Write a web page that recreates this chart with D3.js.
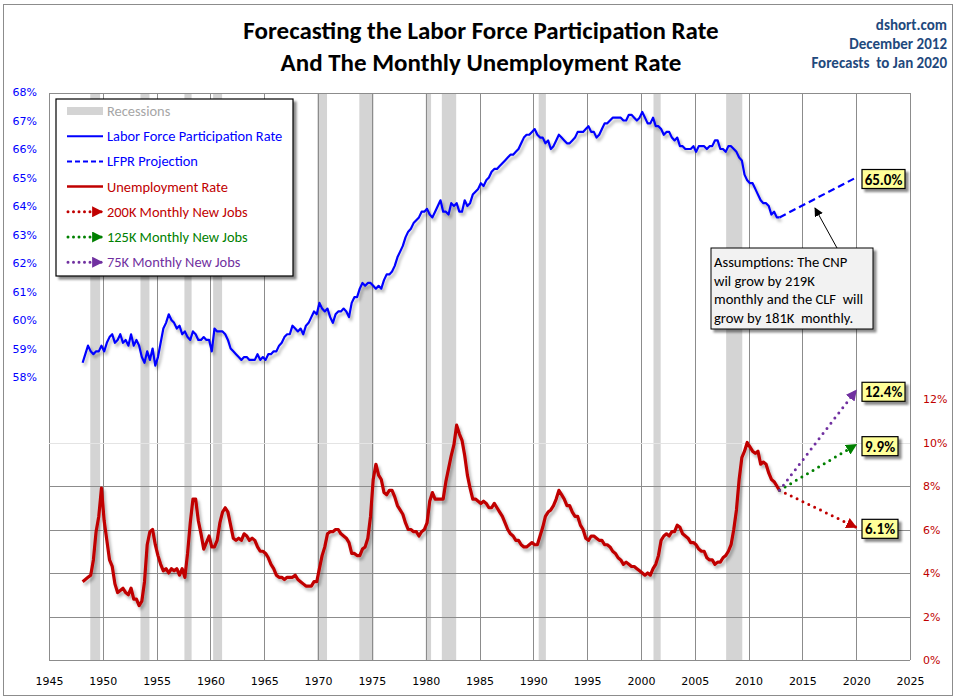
<!DOCTYPE html>
<html lang="en">
<head>
<meta charset="utf-8">
<title>Forecasting the Labor Force Participation Rate</title>
<script src="https://cdn.jsdelivr.net/npm/d3@7"></script>
<style>
  body { margin: 0; background: #fff; }
  svg { display: block; }
  .tick line { shape-rendering: crispEdges; }
</style>
</head>
<body>
<script>

// quarterly values, 1948 Q1 .. 2012 Q4
var firstYear = 1948;

var lfpr = [
  58.5, 58.8, 59.1, 58.9,  58.8, 58.9, 58.9, 59.1,  58.9, 59.2, 59.4, 59.5,  59.2, 59.3, 59.5, 59.2,
  59.3, 59.1, 59.5, 59.1,  59.3, 59.1, 58.7, 58.5,  58.9, 58.6, 59.0, 58.4,  58.7, 59.2, 59.7, 59.9,
  60.2, 60.0, 59.9, 59.7,  59.8, 59.5, 59.6, 59.4,  59.3, 59.6, 59.5, 59.3,  59.3, 59.4, 59.3, 59.3,
  58.9, 59.7, 59.6, 59.6,  59.6, 59.5, 59.3, 59.0,  58.9, 58.8, 58.7, 58.6,  58.7, 58.7, 58.6, 58.6,
  58.6, 58.8, 58.6, 58.7,  58.6, 58.8, 58.8, 58.9,  58.9, 59.1, 59.2, 59.4,  59.5, 59.5, 59.8, 59.7,
  59.6, 59.7, 59.5, 59.8,  59.9, 60.1, 60.3, 60.2,  60.6, 60.4, 60.3, 60.4,  60.1, 59.9, 60.2, 60.3,
  60.3, 60.4, 60.3, 60.1,  60.6, 60.8, 60.8, 61.1,  61.3, 61.2, 61.3, 61.3,  61.2, 61.1, 61.2, 61.1,
  61.4, 61.6, 61.6, 61.7,  61.9, 62.2, 62.4, 62.6,  62.9, 63.1, 63.2, 63.4,  63.5, 63.6, 63.8, 63.8,
  63.9, 63.7, 63.6, 63.8,  64.0, 64.2, 63.8, 63.8,  63.7, 64.1, 64.0, 64.1,  63.8, 63.8, 64.2, 64.0,
  64.1, 64.4, 64.5, 64.6,  64.8, 64.7, 64.9, 65.0,  65.2, 65.3, 65.3, 65.4,  65.5, 65.6, 65.7, 65.8,
  65.8, 65.9, 66.0, 66.2,  66.4, 66.5, 66.5, 66.6,  66.7, 66.5, 66.4, 66.4,  66.2, 66.3, 66.0, 66.1,
  66.3, 66.5, 66.4, 66.3,  66.2, 66.2, 66.3, 66.4,  66.6, 66.6, 66.6, 66.7,  66.8, 66.6, 66.6, 66.4,
  66.5, 66.7, 66.9, 66.9,  67.0, 67.1, 67.1, 67.1,  67.1, 67.0, 67.0, 67.2,  67.2, 67.1, 67.0, 67.1,
  67.3, 67.1, 66.9, 66.9,  67.1, 66.8, 66.8, 66.7,  66.5, 66.6, 66.6, 66.4,  66.3, 66.4, 66.1, 66.1,
  66.0, 66.0, 66.0, 66.1,  65.9, 66.1, 66.1, 66.1,  66.0, 66.1, 66.1, 66.3,  66.3, 66.0, 66.0, 65.9,
  66.1, 66.1, 66.0, 65.9,  65.7, 65.6, 65.1, 64.9,  64.8, 64.8, 64.6, 64.4,  64.2, 64.1, 64.1, 64.0,
  63.7, 63.8, 63.6, 63.6
];

var unrate = [
  3.6, 3.7, 3.8, 3.9,  4.6, 5.9, 6.6, 7.9,  6.4, 5.5, 4.6, 4.3,  3.5, 3.1, 3.2, 3.3,
  3.1, 3.0, 3.3, 2.8,  2.8, 2.5, 2.7, 3.6,  5.3, 5.9, 6.0, 5.3,  4.8, 4.4, 4.1, 4.2,
  4.0, 4.2, 4.1, 4.2,  3.9, 4.2, 3.8, 4.9,  6.3, 7.4, 7.4, 6.4,  5.8, 5.1, 5.4, 5.7,
  5.2, 5.2, 5.5, 6.3,  6.8, 7.0, 6.8, 6.2,  5.6, 5.5, 5.6, 5.5,  5.8, 5.7, 5.5, 5.6,
  5.5, 5.2, 5.0, 5.0,  4.9, 4.7, 4.4, 4.2,  3.9, 3.8, 3.8, 3.7,  3.8, 3.8, 3.8, 3.9,
  3.7, 3.6, 3.5, 3.4,  3.4, 3.4, 3.6, 3.6,  4.2, 4.8, 5.2, 5.8,  5.9, 5.9, 6.0, 6.0,
  5.8, 5.7, 5.6, 5.4,  4.9, 4.9, 4.8, 4.8,  5.1, 5.2, 5.6, 6.6,  8.3, 9.0, 8.5, 8.3,
  7.7, 7.6, 7.8, 7.8,  7.5, 7.1, 6.9, 6.7,  6.3, 6.0, 6.0, 5.9,  5.9, 5.7, 5.9, 6.0,
  6.3, 7.3, 7.7, 7.4,  7.4, 7.4, 7.4, 8.2,  8.8, 9.4, 9.9, 10.8,  10.4, 10.1, 9.4, 8.5,
  7.9, 7.4, 7.4, 7.3,  7.2, 7.3, 7.2, 7.0,  7.0, 7.2, 7.0, 6.8,  6.6, 6.3, 6.0, 5.8,
  5.7, 5.5, 5.5, 5.3,  5.2, 5.2, 5.3, 5.4,  5.3, 5.3, 5.7, 6.1,  6.6, 6.8, 6.9, 7.1,
  7.4, 7.8, 7.6, 7.4,  7.1, 7.1, 6.8, 6.6,  6.6, 6.2, 6.0, 5.6,  5.5, 5.7, 5.7, 5.6,
  5.5, 5.5, 5.3, 5.3,  5.2, 5.0, 4.9, 4.7,  4.6, 4.4, 4.5, 4.4,  4.3, 4.3, 4.2, 4.1,
  4.0, 3.9, 4.0, 3.9,  4.2, 4.4, 4.8, 5.5,  5.7, 5.8, 5.7, 5.9,  5.9, 6.2, 6.1, 5.8,
  5.7, 5.6, 5.4, 5.4,  5.3, 5.1, 5.0, 5.0,  4.7, 4.6, 4.6, 4.4,  4.5, 4.5, 4.7, 4.8,
  5.0, 5.3, 6.0, 6.9,  8.3, 9.3, 9.6, 10.0,  9.8, 9.6, 9.5, 9.6,  9.0, 9.1, 9.0, 8.6,
  8.3, 8.2, 8.0, 7.8
];

// NBER recessions (peak month, trough month)
var recessionStart = ["1948-11", "1953-07", "1957-08", "1960-04", "1969-12", "1973-11",
                      "1980-01", "1981-07", "1990-07", "2001-03", "2007-12"];
var recessionEnd   = ["1949-10", "1954-05", "1958-04", "1961-02", "1970-11", "1975-03",
                      "1980-07", "1982-11", "1991-03", "2001-11", "2009-06"];

// forecasts out to Jan 2020
var forecastEndYear = 2020.0;
var lfprForecastEnd = 65.0;
var scenarioNames = ["200K Monthly New Jobs", "125K Monthly New Jobs", "75K Monthly New Jobs"];
var scenarioEnd = [6.1, 9.9, 12.4];
var scenarioColors = ["#c00000", "#008000", "#7030a0"];

// axis ticks
var yearTicks = d3.range(1945, 2026, 5);
var lfprTicks = d3.range(58, 69, 1);
var unrateTicks = [0, 2, 4, 6, 8, 10, 12];

var W = 961, H = 700;
// plot box (window.top is read-only, so no bare "top")
var pLeft = 49, pRight = 910, pTop = 93, pBottom = 660;

var x = d3.scaleLinear().domain([1945, 2025]).range([pLeft, pRight]);
var yL = d3.scaleLinear().domain([58, 68]).range([377, 92]);
var yU = d3.scaleLinear().domain([0, 12]).range([pBottom, 399]);

function monthToYear(s) {
  var p = s.split("-");
  return +p[0] + (+p[1] - 1) / 12;
}

var lfprPts = lfpr.map(function(v, i) { return [firstYear + i / 4 + 0.125, v]; });
var unPts = unrate.map(function(v, i) { return [firstYear + i / 4 + 0.125, v]; });
var lastT = lfprPts[lfprPts.length - 1][0];

var font = "Carlito, Lato, sans-serif";

var svg = d3.select("body").append("svg")
  .attr("width", W)
  .attr("height", H);

var defs = svg.append("defs");
defs.append("filter").attr("id", "lineShadow")
  .attr("x", "-5%").attr("y", "-10%").attr("width", "110%").attr("height", "125%")
  .append("feDropShadow")
  .attr("dx", 2).attr("dy", 3).attr("stdDeviation", 1.4)
  .attr("flood-color", "#000").attr("flood-opacity", 0.3);
defs.append("filter").attr("id", "boxShadow")
  .attr("x", "-10%").attr("y", "-10%").attr("width", "130%").attr("height", "140%")
  .append("feDropShadow")
  .attr("dx", 3).attr("dy", 3).attr("stdDeviation", 1.2)
  .attr("flood-color", "#000").attr("flood-opacity", 0.45);

function arrowMarker(id, color, size) {
  defs.append("marker").attr("id", id)
    .attr("viewBox", "0 0 10 10")
    .attr("refX", 9).attr("refY", 5)
    .attr("markerUnits", "userSpaceOnUse")
    .attr("markerWidth", size).attr("markerHeight", size)
    .attr("orient", "auto")
    .append("path").attr("d", "M0,0L10,5L0,10Z").attr("fill", color);
}
scenarioColors.forEach(function(c, i) { arrowMarker("arrow" + i, c, 11); });
arrowMarker("arrowBlack", "#000", 9);

// outer frame
svg.append("rect")
  .attr("x", 3.5).attr("y", 4.5).attr("width", 949).attr("height", 691)
  .attr("fill", "#fff").attr("stroke", "#8c8c8c").attr("stroke-width", 1);

// titles
var title = svg.append("g")
  .attr("font-family", font)
  .attr("font-weight", "bold")
  .attr("text-anchor", "middle")
  .attr("fill", "#000");
title.append("text").attr("x", 481).attr("y", 39).attr("font-size", 25)
  .text("Forecasting the Labor Force Participation Rate");
title.append("text").attr("x", 481).attr("y", 71).attr("font-size", 25)
  .text("And The Monthly Unemployment Rate");

var credit = svg.append("g")
  .attr("font-family", font)
  .attr("font-weight", "bold")
  .attr("font-size", 15)
  .attr("text-anchor", "end")
  .attr("fill", "#1f497d");
["dshort.com", "December 2012", "Forecasts  to Jan 2020"].forEach(function(t, i) {
  credit.append("text").attr("x", 947).attr("y", 30 + i * 19)
    .attr("xml:space", "preserve").text(t);
});

// recession bars
svg.append("g").selectAll("rect")
  .data(recessionStart)
  .enter().append("rect")
  .attr("x", function(d) { return x(monthToYear(d)); })
  .attr("width", function(d, i) { return x(monthToYear(recessionEnd[i])) - x(monthToYear(d)); })
  .attr("y", pTop)
  .attr("height", pBottom - pTop)
  .attr("fill", "#d4d4d4");

// vertical grid
svg.append("g")
  .attr("transform", "translate(0," + pBottom + ")")
  .call(d3.axisBottom(x).tickValues(yearTicks).tickSize(-(pBottom - pTop)).tickFormat(""))
  .call(function(g) { g.select(".domain").remove(); })
  .selectAll("line").attr("stroke", "#8c8c8c");

// horizontal grid on the unemployment scale
svg.append("g")
  .attr("transform", "translate(" + pLeft + ",0)")
  .call(d3.axisRight(yU).tickValues([0, 2, 4, 6, 8, 10]).tickSize(pRight - pLeft).tickFormat(""))
  .call(function(g) { g.select(".domain").remove(); })
  .selectAll("line")
  .attr("stroke", function(d) { return d === 10 ? "#e4e4e4" : "#8c8c8c"; });

svg.append("line")
  .attr("x1", pLeft).attr("x2", pRight).attr("y1", pTop + 0.5).attr("y2", pTop + 0.5)
  .attr("stroke", "#8c8c8c");

// axes labels
svg.append("g")
  .attr("transform", "translate(0," + pBottom + ")")
  .call(d3.axisBottom(x).tickValues(yearTicks).tickSize(0).tickPadding(17).tickFormat(d3.format("d")))
  .call(function(g) { g.select(".domain").remove(); })
  .selectAll("text")
  .attr("font-family", "DejaVu Sans, sans-serif").attr("font-size", 11).attr("fill", "#000");

svg.append("g")
  .attr("transform", "translate(37,0)")
  .call(d3.axisLeft(yL).tickValues(lfprTicks).tickSize(0).tickPadding(0).tickFormat(function(d) { return d + "%"; }))
  .call(function(g) { g.select(".domain").remove(); })
  .selectAll("text")
  .attr("font-family", "DejaVu Sans, sans-serif").attr("font-size", 11).attr("fill", "#0000ff");

svg.append("g")
  .attr("transform", "translate(923,0)")
  .call(d3.axisRight(yU).tickValues(unrateTicks).tickSize(0).tickPadding(0).tickFormat(function(d) { return d + "%"; }))
  .call(function(g) { g.select(".domain").remove(); })
  .selectAll("text")
  .attr("font-family", "DejaVu Sans, sans-serif").attr("font-size", 11).attr("fill", "#c00000");

// data lines
var lineL = d3.line().x(function(d) { return x(d[0]); }).y(function(d) { return yL(d[1]); });
var lineU = d3.line().x(function(d) { return x(d[0]); }).y(function(d) { return yU(d[1]); });

svg.append("path")
  .datum(lfprPts)
  .attr("d", lineL)
  .attr("fill", "none")
  .attr("stroke", "#0000ff")
  .attr("stroke-width", 2.2)
  .attr("stroke-linejoin", "round")
  .attr("filter", "url(#lineShadow)");

svg.append("path")
  .datum(unPts)
  .attr("d", lineU)
  .attr("fill", "none")
  .attr("stroke", "#c00000")
  .attr("stroke-width", 3.2)
  .attr("stroke-linejoin", "round")
  .attr("filter", "url(#lineShadow)");

// LFPR projection
svg.append("path")
  .datum([[lastT, lfpr[lfpr.length - 1]], [forecastEndYear, lfprForecastEnd]])
  .attr("d", lineL)
  .attr("fill", "none")
  .attr("stroke", "#0000ff")
  .attr("stroke-width", 2.2)
  .attr("stroke-dasharray", "7,4");

// unemployment scenarios
var startU = unrate[unrate.length - 1];
svg.append("g").selectAll("path")
  .data(scenarioEnd)
  .enter().append("path")
  .attr("d", function(d) {
    return lineU([[lastT, startU], [forecastEndYear, d]]);
  })
  .attr("fill", "none")
  .attr("stroke", function(d, i) { return scenarioColors[i]; })
  .attr("stroke-width", 3)
  .attr("stroke-linecap", "round")
  .attr("stroke-dasharray", "0,6.5")
  .attr("marker-end", function(d, i) { return "url(#arrow" + i + ")"; });

// value call-outs
function callout(v, yv, w) {
  var g = svg.append("g").attr("transform", "translate(862," + (yv - 10) + ")");
  g.append("rect")
    .attr("width", w).attr("height", 19)
    .attr("fill", "#ffff99").attr("stroke", "#000").attr("stroke-width", 1.2)
    .attr("filter", "url(#boxShadow)");
  g.append("text")
    .attr("x", w / 2).attr("y", 15)
    .attr("text-anchor", "middle")
    .attr("font-family", font)
    .attr("font-weight", "bold").attr("font-size", 15)
    .attr("fill", "#000")
    .text(v);
}
callout(d3.format(".1f")(lfprForecastEnd) + "%", yL(lfprForecastEnd) + 2, 43);
scenarioEnd.forEach(function(d) {
  callout(d3.format(".1f")(d) + "%", yU(d) + 2, d >= 10 ? 43 : 36);
});

// assumptions note
var note = svg.append("g").attr("transform", "translate(711,248)");
svg.append("line")
  .attr("x1", 837).attr("y1", 248).attr("x2", 815).attr("y2", 208)
  .attr("stroke", "#000").attr("stroke-width", 1)
  .attr("marker-end", "url(#arrowBlack)");
note.append("rect")
  .attr("width", 162).attr("height", 81)
  .attr("fill", "#f2f2f2").attr("stroke", "#000").attr("stroke-width", 1)
  .attr("filter", "url(#boxShadow)");
["Assumptions: The CNP", "wil grow by 219K", "monthly and the CLF  will", "grow by 181K  monthly."]
  .forEach(function(t, i) {
    note.append("text")
      .attr("x", 3).attr("y", 19 + i * 18.5)
      .attr("font-family", font)
      .attr("font-size", 14.6)
      .attr("fill", "#000")
      .attr("xml:space", "preserve")
      .text(t);
  });

// legend
var legend = svg.append("g").attr("transform", "translate(56,99)");
legend.append("rect")
  .attr("width", 237).attr("height", 177)
  .attr("fill", "#fff").attr("stroke", "#000").attr("stroke-width", 1.2)
  .attr("filter", "url(#boxShadow)");

var legendItems = [
  { label: "Recessions", color: "#a6a6a6", kind: "bar" },
  { label: "Labor Force Participation Rate", color: "#0000ff", kind: "solid" },
  { label: "LFPR Projection", color: "#0000ff", kind: "dash" },
  { label: "Unemployment Rate", color: "#c00000", kind: "solidThick" }
].concat(scenarioNames.map(function(n, i) {
  return { label: n, color: scenarioColors[i], kind: "dots", idx: i };
}));

legendItems.forEach(function(d, i) {
  var cy = 12 + i * 25.2;
  var row = legend.append("g");
  if (d.kind === "bar") {
    row.append("rect").attr("x", 11).attr("y", cy - 4).attr("width", 36).attr("height", 8).attr("fill", "#d4d4d4");
  } else if (d.kind === "dots") {
    row.append("line")
      .attr("x1", 12).attr("x2", 46).attr("y1", cy).attr("y2", cy)
      .attr("stroke", d.color).attr("stroke-width", 3)
      .attr("stroke-linecap", "round").attr("stroke-dasharray", "0,5.5")
      .attr("marker-end", "url(#arrow" + d.idx + ")");
  } else {
    row.append("line")
      .attr("x1", 11).attr("x2", 47).attr("y1", cy).attr("y2", cy)
      .attr("stroke", d.color)
      .attr("stroke-width", d.kind === "solidThick" ? 2.5 : 2)
      .attr("stroke-dasharray", d.kind === "dash" ? "5,3" : null);
  }
  row.append("text")
    .attr("x", 51).attr("y", cy + 5)
    .attr("font-family", font)
    .attr("font-size", 14.4)
    .attr("fill", d.color)
    .text(d.label);
});

</script>
</body>
</html>
